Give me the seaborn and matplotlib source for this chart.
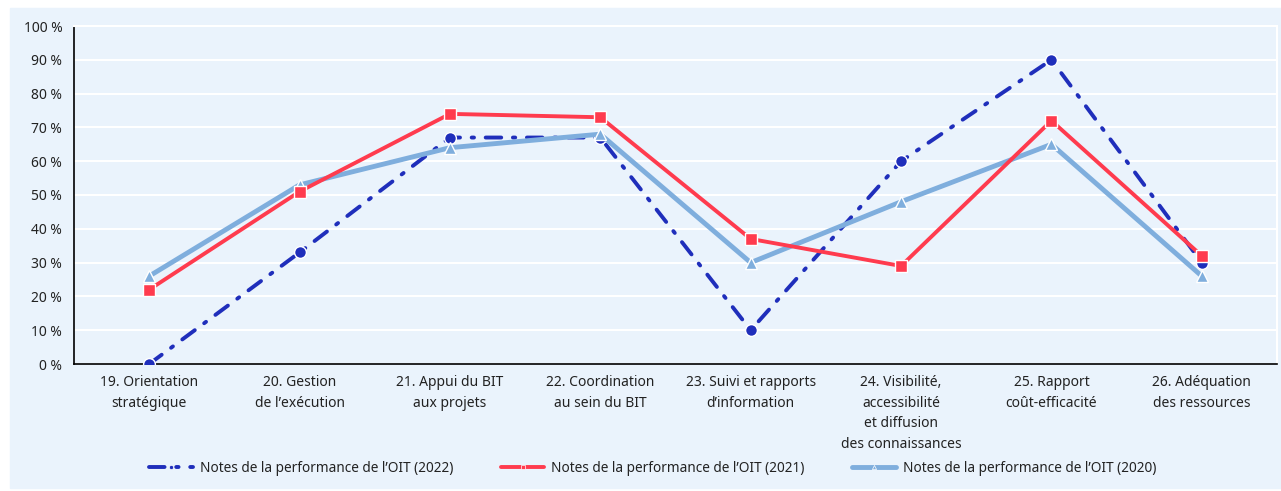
import matplotlib
matplotlib.use('Agg')
import matplotlib.pyplot as plt
import matplotlib.patches as mpatches
from matplotlib.ticker import FixedLocator, FuncFormatter
import numpy as np
import pandas as pd
import seaborn as sns

categories = ['19. Orientation\nstratégique', '20. Gestion\nde l’exécution',
              '21. Appui du BIT\naux projets', '22. Coordination\nau sein du BIT',
              '23. Suivi et rapports\nd’information',
              '24. Visibilité,\naccessibilité\net diffusion\ndes connaissances',
              '25. Rapport\ncoût-efficacité', '26. Adéquation\ndes ressources']
notes_2022 = [0, 33, 67, 67, 10, 60, 90, 30]
notes_2021 = [22, 51, 74, 73, 37, 29, 72, 32]
notes_2020 = [26, 53, 64, 68, 30, 48, 65, 26]
labels = ['Notes de la performance de l’OIT (2022)',
          'Notes de la performance de l’OIT (2021)',
          'Notes de la performance de l’OIT (2020)']

bg = '#EAF3FC'
sns.set_style('white')
plt.rcParams['font.family'] = ['Noto Sans', 'DejaVu Sans']

fig = plt.figure(figsize=(12.81, 4.91), dpi=100)
fig.patches.append(mpatches.Rectangle((10/1281, 3/491), 1271/1281, 480/491,
                                      transform=fig.transFigure, color=bg, zorder=-10))
ax = fig.add_axes([74/1281, 1-364/491, 1203/1281, 338/491])
ax.set_facecolor(bg)

x = np.arange(len(categories))
df = pd.DataFrame({'x': x, '2022': notes_2022, '2021': notes_2021, '2020': notes_2020})

sns.lineplot(data=df, x='x', y='2022', ax=ax, color='#1F2EBB', linewidth=2.8,
             linestyle=(0, (4, 3, 0.6, 3)), dash_capstyle='round',
             marker='o', markersize=8.5, markeredgecolor='white', markeredgewidth=1,
             label=labels[0], zorder=3)
sns.lineplot(data=df, x='x', y='2021', ax=ax, color='#FF3B4E', linewidth=2.8,
             marker='s', markersize=8, markeredgecolor='white', markeredgewidth=1,
             label=labels[1], zorder=5)
sns.lineplot(data=df, x='x', y='2020', ax=ax, color='#7FAEDD', linewidth=3.5,
             marker='^', markersize=8, markeredgecolor='white', markeredgewidth=1,
             label=labels[2], zorder=4)

ax.set_xlim(-0.5, len(categories) - 0.5)
ax.set_ylim(0, 100)
ax.set_yticks(range(0, 101, 10))
ax.yaxis.set_major_formatter(FuncFormatter(lambda v, p: f'{int(v)} %'))
ax.set_xticks(x)
ax.set_xticklabels(categories, fontsize=10, color='#222222', linespacing=1.5)
ax.xaxis.set_minor_locator(FixedLocator(np.arange(-0.5, len(categories), 1)))
ax.tick_params(axis='x', which='major', length=0, pad=8)
ax.tick_params(axis='x', which='minor', length=5, width=1, color='black', direction='out')
ax.tick_params(axis='y', labelsize=10, length=5, width=1, colors='black', labelcolor='#222222')
ax.set_xlabel('')
ax.set_ylabel('')
ax.grid(axis='y', color='white', linewidth=1.5, zorder=0)
ax.set_axisbelow(True)
for s in ['top', 'right']:
    ax.spines[s].set_color('white')
    ax.spines[s].set_linewidth(1.5)
ax.spines['left'].set_color('black')
ax.spines['bottom'].set_color('black')
ax.spines['left'].set_linewidth(1.2)
ax.spines['bottom'].set_linewidth(1.2)

leg = ax.legend(loc='center', bbox_to_anchor=(0.481, (468 - 364) / -338), bbox_transform=ax.transAxes,
                ncol=3, frameon=False, fontsize=9.8, handlelength=3.2, columnspacing=3.5,
                handletextpad=0.5)
for t in leg.get_texts():
    t.set_color('#222222')
for lh in leg.get_lines():
    lh.set_markersize(3)
    lh.set_markeredgewidth(0.5)

fig.savefig('out.png', dpi=100, facecolor='white')
